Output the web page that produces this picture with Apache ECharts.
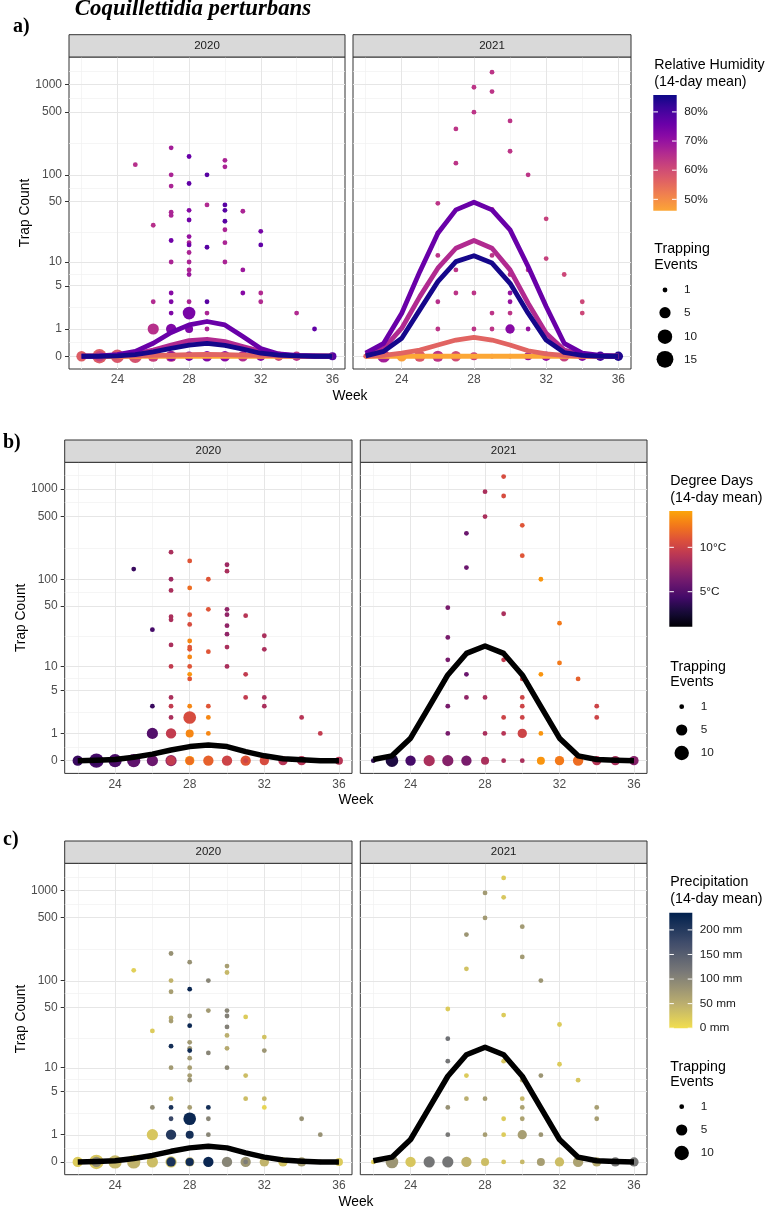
<!DOCTYPE html>
<html>
<head>
<meta charset="utf-8">
<script src="https://cdn.jsdelivr.net/npm/echarts@6.0.0/dist/echarts.min.js"></script>
<style>
html, body { margin: 0; padding: 0; background: #fff; }
#chart { width: 768px; height: 1210px; }
</style>
</head>
<body>
<div id="chart"></div>
<script>
// ---- data ----
const weeks = [22, 23, 24, 25, 26, 27, 28, 29, 30, 31, 32, 33, 34, 35, 36];

// 2020, trap counts > 0 (week, count, trapping events, humidity %, degree days, precip mm)
const wk20  = [25, 26, 26, 26, 27, 27, 27, 27, 27, 27, 27, 27, 27, 27, 27,
               28, 28, 28, 28, 28, 28, 28, 28, 28, 28, 28, 28, 28, 28,
               29, 29, 29, 29, 29, 29, 30, 30, 30, 30, 30, 30, 30, 30,
               31, 31, 31, 32, 32, 32, 32, 34, 35];
const cnt20 = [130, 27, 3, 1, 200, 100, 75, 38, 35, 18, 10, 4, 3, 2, 1,
               160, 80, 40, 31, 20, 17, 16, 13, 10, 8, 7, 3, 2, 1,
               100, 46, 15, 3, 2, 1, 145, 123, 46, 40, 30, 24, 17, 10,
               39, 8, 4, 23, 16, 4, 3, 2, 1];
const ev20  = [1, 1, 1, 5, 1, 1, 1, 1, 1, 1, 1, 1, 1, 1, 4,
               1, 1, 1, 1, 1, 1, 1, 1, 1, 1, 1, 1, 7, 2,
               1, 1, 1, 1, 1, 1, 1, 1, 1, 1, 1, 1, 1, 1,
               1, 1, 1, 1, 1, 1, 1, 1, 1];
const rh20  = [65, 65, 66, 65, 68, 67, 67, 67, 67, 75, 67, 72, 73, 73, 73,
               76, 77, 72, 75, 70, 67, 75, 67, 67, 67, 69, 67, 74, 73,
               78, 66, 78, 78, 67, 67, 67, 67, 78, 78, 78, 67, 67, 67,
               67, 69, 72, 74, 77, 66, 66, 66, 77];
const dd20  = [4.0, 4.5, 4.0, 5.0, 8.5, 8.0, 8.5, 8.5, 8.5, 8.5, 9.5, 8.5, 9.5, 8.5, 9.5,
               11, 12, 11, 10.5, 13, 11, 11, 13, 11, 13.5, 11, 13, 10.5, 13,
               11, 11, 11, 11, 13, 13, 8.0, 8.5, 7.5, 7.5, 7.5, 7.5, 8.5, 8.5,
               9.0, 9.5, 9.5, 8.5, 8.5, 8.5, 8.5, 9.0, 9.5];
const pr20  = [15, 20, 90, 25, 85, 45, 70, 55, 70, 215, 75, 40, 210, 180, 200,
               85, 225, 90, 225, 75, 80, 220, 75, 70, 70, 85, 70, 225, 215,
               100, 75, 100, 215, 100, 100, 70, 40, 100, 105, 105, 50, 55, 95,
               20, 35, 35, 30, 80, 40, 10, 85, 85];

// 2020, zero counts for weeks 22..36
const zEv20 = [4, 10, 8, 8, 5, 5, 3, 4, 4, 4, 3, 3, 3, 1, 2];
const zRh20 = [57, 57, 58, 59, 62, 65, 72, 73, 72, 66, 72, 60, 64, 75, 78];
const zDd20 = [4.0, 4.5, 4.7, 5.5, 6.0, 7.5, 13.5, 11.5, 10, 11, 10.5, 9, 9, 9.5, 9];
const zPr20 = [20, 25, 40, 45, 35, 30, 50, 225, 100, 80, 45, 30, 70, 80, 20];
// 2020, smaller zero-count groups drawn on top
const oWk20 = [23, 27, 28, 31];
const oEv20 = [4, 3, 2, 1];
const oRh20 = [62, 74, 76, 68];
const oDd20 = [4.0, 9.5, 12, 10];
const oPr20 = [90, 210, 220, 110];

// 2021, trap counts > 0
const wk21  = [26, 26, 26, 26, 26, 27, 27, 27, 27, 28, 28, 28, 28,
               29, 29, 29, 29, 29, 29, 30, 30, 30, 30, 30, 30, 30,
               31, 31, 31, 32, 32, 33, 34, 34];
const cnt21 = [48, 22, 12, 3, 1, 324, 135, 8, 4, 937, 496, 4, 1,
               1374, 839, 41, 12, 2, 1, 397, 183, 7, 4, 3, 2, 1,
               100, 8, 1, 32, 11, 7, 3, 2];
const ev21  = [1, 1, 1, 1, 1, 1, 1, 1, 1, 1, 1, 1, 1,
               1, 1, 1, 1, 1, 1, 1, 1, 1, 1, 1, 1, 3,
               1, 1, 1, 1, 1, 1, 1, 1];
const rh21  = [64, 65, 64, 65, 64, 64, 64, 64, 64, 64, 64, 64, 64,
               64, 64, 64, 64, 64, 64, 64, 64, 64, 70, 70, 64, 72,
               64, 64, 70, 62, 62, 61, 61, 61];
const dd21  = [6.5, 6.5, 6.5, 6.5, 6.5, 6.0, 6.0, 6.0, 7.5, 8.5, 8.5, 8.5, 8.5,
               10.5, 10.5, 8.5, 9.5, 10, 9, 11, 11, 10, 10, 10, 10, 10,
               13.5, 13.5, 13.5, 12.5, 12.5, 11.5, 10, 10];
const pr21  = [20, 125, 120, 85, 115, 80, 30, 20, 50, 75, 75, 70, 70,
               20, 25, 20, 25, 20, 20, 75, 75, 50, 40, 65, 65, 70,
               80, 80, 80, 20, 20, 25, 70, 70];

// 2021, zero counts for weeks 22..36
const zEv21 = [1, 7, 4, 5, 5, 4, 2, 1, 1, 2, 3, 4, 3, 3, 3];
const zRh21 = [57, 68, 47, 58, 64, 60, 62, 62, 62, 70, 70, 62, 72, 80, 84];
const zDd21 = [3.5, 3.0, 4.5, 8.5, 7, 6.5, 8.5, 8.5, 8.5, 13.5, 12.5, 12, 9, 8.5, 7];
const zPr21 = [15, 80, 25, 120, 120, 45, 35, 25, 40, 70, 35, 65, 55, 115, 115];

// model predictions by week (panel a: one curve per humidity level)
const fitRh = [46, 56, 66, 76, 85];
const fit20_rh46 = [0, 0, 0, 0, 0, 0, 0, 0, 0, 0, 0, 0, 0, 0, 0];
const fit20_rh56 = [0, 0, 0, 0.01, 0.02, 0.03, 0.04, 0.05, 0.04, 0.03, 0.02, 0.01, 0, 0, 0];
const fit20_rh66 = [0, 0.005, 0.03, 0.06, 0.17, 0.33, 0.49, 0.54, 0.45, 0.28, 0.13, 0.04, 0.01, 0, 0];
const fit20_rh76 = [0, 0.01, 0.04, 0.13, 0.39, 0.83, 1.22, 1.42, 1.22, 0.65, 0.22, 0.06, 0.02, 0.01, 0];
const fit20_rh85 = [0, 0, 0.01, 0.04, 0.12, 0.22, 0.33, 0.39, 0.32, 0.2, 0.08, 0.03, 0.01, 0, 0];
const fit21_rh46 = [0, 0, 0, 0, 0, 0, 0, 0, 0, 0, 0, 0, 0, 0, 0];
const fit21_rh56 = [0, 0.02, 0.08, 0.17, 0.33, 0.51, 0.62, 0.51, 0.33, 0.15, 0.06, 0.02, 0, 0, 0];
const fit21_rh66 = [0.03, 0.22, 1.04, 3.56, 8.4, 14.6, 18.0, 14.6, 8.0, 2.85, 0.8, 0.17, 0.04, 0.01, 0];
const fit21_rh76 = [0.08, 0.39, 1.99, 7.6, 21.9, 40.4, 49.3, 40.4, 23.9, 8.8, 2.54, 0.39, 0.08, 0.02, 0];
const fit21_rh85 = [0.01, 0.13, 0.58, 2.25, 5.68, 10.1, 11.9, 9.7, 5.4, 1.99, 0.51, 0.1, 0.02, 0, 0];
// panels b and c: single overall curve
const fit20_all = [0, 0.01, 0.03, 0.09, 0.18, 0.31, 0.43, 0.49, 0.43, 0.26, 0.13, 0.05, 0.02, 0, 0];
const fit21_all = [0.03, 0.13, 0.77, 2.95, 7.85, 14.3, 17.5, 14.3, 7.85, 2.95, 0.77, 0.13, 0.03, 0.01, 0];

// axis breaks
const yBreaks = [0, 1, 5, 10, 50, 100, 500, 1000];
const xBreaks = [24, 28, 32, 36];
const xMinorBreaks = [22, 26, 30, 34];
const rhBreaks = [80, 70, 60, 50];
const ddBreaks = [10, 5];
const prBreaks = [200, 150, 100, 50, 0];
const sizeBreaksA = [1, 5, 10, 15];
const sizeBreaksBC = [1, 5, 10];

// ---- scales ----
const T = c => Math.log10(c + 1);
const yMajorT = yBreaks.map(T);
const yMinorT = [];
for (let i = 0; i < yMajorT.length - 1; i++) yMinorT.push((yMajorT[i] + yMajorT[i + 1]) / 2);
yMinorT.push(yMajorT[yMajorT.length - 1] + (yMajorT[yMajorT.length - 1] - yMajorT[yMajorT.length - 2]) / 2);

const plasma = ['#0D0887', '#41049D', '#6A00A8', '#8F0DA4', '#B12A90', '#CC4778', '#E16462', '#F2844B', '#FCA636', '#FCCE25', '#F0F921'];
const inferno = ['#000004', '#160B39', '#420A68', '#6A176E', '#932667', '#BC3754', '#DD513A', '#F37819', '#FCA50A', '#F6D746', '#FCFFA4'];
const cividis = ['#00204D', '#414D6B', '#7C7B78', '#BCAF6F', '#FFEA46'];

function hex2rgb(h) { return [parseInt(h.slice(1, 3), 16), parseInt(h.slice(3, 5), 16), parseInt(h.slice(5, 7), 16)]; }
function pal(stops, t) {
  t = Math.max(0, Math.min(1, t));
  const p = t * (stops.length - 1);
  const i = Math.min(Math.floor(p), stops.length - 2);
  const f = p - i;
  const a = hex2rgb(stops[i]), b = hex2rgb(stops[i + 1]);
  const c = a.map((v, k) => Math.round(v + (b[k] - v) * f));
  return 'rgb(' + c.join(',') + ')';
}
const rhLim = [46.1, 85.8], ddLim = [1.06, 14.09], prLim = [0, 235];
const rhT = h => 0.8 * (rhLim[1] - h) / (rhLim[1] - rhLim[0]);
const ddT = d => 0.8 * (d - ddLim[0]) / (ddLim[1] - ddLim[0]);
const prT = p => 0.95 * (1 - (p - prLim[0]) / (prLim[1] - prLim[0]));
const rhColor = h => pal(plasma, rhT(h));
const ddColor = d => pal(inferno, ddT(d));
const prColor = p => pal(cividis, prT(p));
const sizeOf = n => 4.8 + 12 * Math.sqrt((n - 1) / 14);

// ---- layout ----
const SANS = '"Liberation Sans", Arial, Helvetica, sans-serif';
const SERIF = '"Liberation Serif", "Times New Roman", serif';
const PX_PER_UNIT = 90.5, Y_MIN = -0.141, X_MIN = 21.3, X_MAX = 36.7;
const panels = [
  { top: 57, height: 312, lefts: [69, 353], widths: [276, 278], colorOf: rhColor,
    cov20: rh20, z20: zRh20, o20: oRh20, cov21: rh21, z21: zRh21, tag: 'a)', tagX: 13, tagY: 27, weekX: 350 },
  { top: 462.3, height: 311.1, lefts: [64.7, 360.3], widths: [287.3, 286.7], colorOf: ddColor,
    cov20: dd20, z20: zDd20, o20: oDd20, cov21: dd21, z21: zDd21, tag: 'b)', tagX: 3, tagY: 443, weekX: 356 },
  { top: 863.3, height: 311.4, lefts: [64.7, 360.3], widths: [287.3, 286.7], colorOf: prColor,
    cov20: pr20, z20: zPr20, o20: oPr20, cov21: pr21, z21: zPr21, tag: 'c)', tagX: 3, tagY: 840, weekX: 356 }
];

const grids = [], xAxes = [], yAxes = [], series = [], g = [];

function styledText(x, y, s, font, fill, align) {
  g.push({ type: 'text', x: x, y: y, silent: true, z: 50,
    style: { text: s, font: font, fill: fill, align: align, verticalAlign: 'middle' } });
}

function gridLineSeries(i) {
  const data = [];
  xMinorBreaks.forEach(v => data.push({ xAxis: v, lineStyle: { color: '#f0f0f0', width: 0.7, type: 'solid' } }));
  yMinorT.forEach(v => data.push({ yAxis: v, lineStyle: { color: '#f0f0f0', width: 0.7, type: 'solid' } }));
  xBreaks.forEach(v => data.push({ xAxis: v, lineStyle: { color: '#e6e6e6', width: 1, type: 'solid' } }));
  yMajorT.forEach(v => data.push({ yAxis: v, lineStyle: { color: '#e6e6e6', width: 1, type: 'solid' } }));
  return { type: 'line', xAxisIndex: i, yAxisIndex: i, data: [], silent: true, z: 1,
    markLine: { z: 1, silent: true, symbol: ['none', 'none'], label: { show: false }, animation: false,
      emphasis: { disabled: true }, data: data } };
}

panels.forEach((p, pi) => {
  const yMax = Y_MIN + p.height / PX_PER_UNIT;
  [0, 1].forEach(f => {
    const gi = pi * 2 + f;
    grids.push({ left: p.lefts[f], top: p.top, width: p.widths[f], height: p.height,
      show: true, borderColor: '#333333', borderWidth: 1, backgroundColor: 'transparent' });
    xAxes.push({ type: 'value', gridIndex: gi, min: X_MIN, max: X_MAX,
      axisLine: { show: false },
      axisTick: { show: true, customValues: xBreaks, length: 4, lineStyle: { color: '#333333', width: 1 } },
      axisLabel: { show: true, customValues: xBreaks, margin: 5, color: '#4d4d4d', fontSize: 12, fontFamily: SANS },
      splitLine: { show: false } });
    yAxes.push({ type: 'value', gridIndex: gi, min: Y_MIN, max: yMax,
      axisLine: { show: false },
      axisTick: { show: f === 0, customValues: yMajorT, length: 4, lineStyle: { color: '#333333', width: 1 } },
      axisLabel: { show: f === 0, customValues: yMajorT, margin: 7, color: '#4d4d4d', fontSize: 12, fontFamily: SANS,
        formatter: v => String(Math.round(Math.pow(10, v) - 1)) },
      splitLine: { show: false } });
    series.push(gridLineSeries(gi));

    // points
    const pts = [];
    if (f === 0) {
      weeks.forEach((w, i) => pts.push([w, T(0), zEv20[i], p.z20[i]]));
      oWk20.forEach((w, i) => pts.push([w, T(0), oEv20[i], p.o20[i]]));
      wk20.forEach((w, i) => pts.push([w, T(cnt20[i]), ev20[i], p.cov20[i]]));
    } else {
      weeks.forEach((w, i) => pts.push([w, T(0), zEv21[i], p.z21[i]]));
      wk21.forEach((w, i) => pts.push([w, T(cnt21[i]), ev21[i], p.cov21[i]]));
    }
    series.push({ type: 'scatter', xAxisIndex: gi, yAxisIndex: gi, data: pts, silent: true, z: 3,
      symbol: 'circle', symbolSize: v => sizeOf(v[2]),
      itemStyle: { color: prm => p.colorOf(prm.value[3]), opacity: 1 } });

    // fitted curves
    let fits;
    if (pi === 0) {
      fits = f === 0 ? [fit20_rh46, fit20_rh56, fit20_rh66, fit20_rh76, fit20_rh85]
                     : [fit21_rh46, fit21_rh56, fit21_rh66, fit21_rh76, fit21_rh85];
      fits.forEach((fit, k) => series.push({ type: 'line', xAxisIndex: gi, yAxisIndex: gi, silent: true, z: 4 + k,
        symbol: 'none', showSymbol: false, data: weeks.map((w, i) => [w, T(fit[i])]),
        lineStyle: { color: rhColor(fitRh[k]), width: 4.8, join: 'round' } }));
    } else {
      const fit = f === 0 ? fit20_all : fit21_all;
      series.push({ type: 'line', xAxisIndex: gi, yAxisIndex: gi, silent: true, z: 4,
        symbol: 'none', showSymbol: false, data: weeks.map((w, i) => [w, T(fit[i])]),
        lineStyle: { color: '#000000', width: 5.5, join: 'round' } });
    }

    // facet strip
    g.push({ type: 'rect', silent: true, z: 40,
      shape: { x: p.lefts[f], y: p.top - 22.3, width: p.widths[f], height: 22.3 },
      style: { fill: '#d9d9d9', stroke: '#333333', lineWidth: 1 } });
    styledText(p.lefts[f] + p.widths[f] / 2, p.top - 11, f === 0 ? '2020' : '2021', '11.5px ' + SANS, '#1a1a1a', 'center');
  });

  // axis titles and tag
  g.push({ type: 'text', x: p.lefts[0] - 44, y: p.top + p.height / 2, rotation: Math.PI / 2, silent: true, z: 50,
    style: { text: 'Trap Count', font: '13.8px ' + SANS, fill: '#000', align: 'center', verticalAlign: 'middle' } });
  styledText(p.weekX, p.top + p.height + 27, 'Week', '13.8px ' + SANS, '#000', 'center');
  styledText(p.tagX, p.tagY, p.tag, 'bold 20px ' + SERIF, '#000', 'left');
});

styledText(193, 9.5, 'Coquillettidia perturbans', 'italic bold 22.8px ' + SERIF, '#000', 'center');

// ---- legends ----
function colorbar(x, y, w, h, stopsFn, ticks, tickY, fmt, title1, title2, titleY) {
  styledText(x + 1, titleY, title1, '14.2px ' + SANS, '#000', 'left');
  styledText(x + 1, titleY + 16.5, title2, '14.2px ' + SANS, '#000', 'left');
  const cs = [];
  for (let i = 0; i <= 20; i++) cs.push({ offset: i / 20, color: stopsFn(i / 20) });
  g.push({ type: 'rect', silent: true, z: 40, shape: { x: x, y: y, width: w, height: h },
    style: { fill: { type: 'linear', x: 0, y: 0, x2: 0, y2: 1, colorStops: cs } } });
  ticks.forEach(v => {
    const ty = tickY(v);
    g.push({ type: 'line', silent: true, z: 41, shape: { x1: x, y1: ty, x2: x + w / 5, y2: ty }, style: { stroke: '#ffffff', lineWidth: 1 } });
    g.push({ type: 'line', silent: true, z: 41, shape: { x1: x + w - w / 5, y1: ty, x2: x + w, y2: ty }, style: { stroke: '#ffffff', lineWidth: 1 } });
    styledText(x + w + 7.5, ty, fmt(v), '11.8px ' + SANS, '#1a1a1a', 'left');
  });
}
function sizeLegend(x, titleY, cx, ys, breaks) {
  styledText(x + 1, titleY, 'Trapping', '14.2px ' + SANS, '#000', 'left');
  styledText(x + 1, titleY + 15.5, 'Events', '14.2px ' + SANS, '#000', 'left');
  breaks.forEach((n, i) => {
    g.push({ type: 'circle', silent: true, z: 40, shape: { cx: cx, cy: ys[i], r: sizeOf(n) / 2 }, style: { fill: '#000' } });
    styledText(cx + 19, ys[i], String(n), '11.8px ' + SANS, '#1a1a1a', 'left');
  });
}

// a) relative humidity
(function () {
  const y0 = 95, h = 115.7;
  colorbar(653.3, y0, 23.4, h, t => rhColor(rhLim[1] - t * (rhLim[1] - rhLim[0])), rhBreaks,
    v => y0 + (rhLim[1] - v) / (rhLim[1] - rhLim[0]) * h, v => v + '%', 'Relative Humidity', '(14-day mean)', 65.5);
  sizeLegend(653.3, 249.5, 665, [290, 312.7, 336.7, 359.3], sizeBreaksA);
})();
// b) degree days
(function () {
  const y0 = 511, h = 115.7;
  colorbar(669.3, y0, 23, h, t => ddColor(ddLim[1] - t * (ddLim[1] - ddLim[0])), ddBreaks,
    v => y0 + (ddLim[1] - v) / (ddLim[1] - ddLim[0]) * h, v => v + '\u00B0C', 'Degree Days', '(14-day mean)', 481.5);
  sizeLegend(669.3, 667, 681.7, [706.7, 730, 753], sizeBreaksBC);
})();
// c) precipitation
(function () {
  const y0 = 912.7, h = 115.5;
  colorbar(669.3, y0, 23, h, t => prColor(prLim[1] - t * (prLim[1] - prLim[0])), prBreaks,
    v => y0 + (prLim[1] - v) / (prLim[1] - prLim[0]) * h, v => v + ' mm', 'Precipitation', '(14-day mean)', 882.5);
  sizeLegend(669.3, 1067, 681.7, [1106.7, 1130, 1153], sizeBreaksBC);
})();

const chart = echarts.init(document.getElementById('chart'), null, { renderer: 'canvas' });
chart.setOption({
  animation: false,
  backgroundColor: '#ffffff',
  textStyle: { fontFamily: SANS },
  grid: grids,
  xAxis: xAxes,
  yAxis: yAxes,
  series: series,
  graphic: { elements: g }
});
</script>
</body>
</html>
